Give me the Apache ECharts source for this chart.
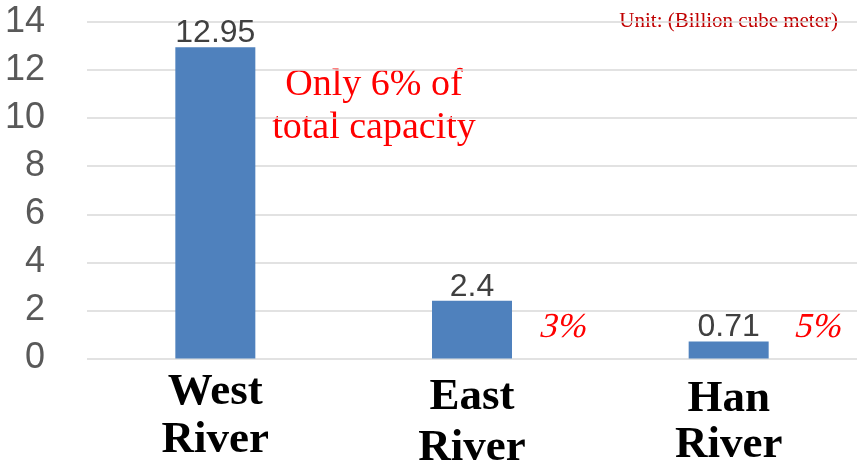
<!DOCTYPE html>
<html>
<head>
<meta charset="utf-8">
<script src="https://cdn.jsdelivr.net/npm/echarts@6/dist/echarts.min.js"></script>
<style>
  html, body { margin: 0; padding: 0; background: #fff; }
  #chart { width: 865px; height: 471px; }
</style>
</head>
<body>
<div id="chart"></div>
<script>
// Reservoir storage by river basin
const rivers = ['West', 'East', 'Han'];
const capacity = [12.95, 2.4, 0.71];
const shareNotes = ['Only 6% of\ntotal capacity', '3%', '5%'];
const yTicks = [0, 2, 4, 6, 8, 10, 12, 14];
const unitNote = 'Unit: (Billion cube meter)';

// per-category line heights for the two-line river names
const nameLines = [[50, 46], [60, 42], [64, 28]];
const nameFont = { fontFamily: 'Liberation Serif', fontWeight: 'bold', fontSize: 45, color: '#000' };
const rich = {};
rivers.forEach((r, i) => {
  rich['a' + i] = Object.assign({ lineHeight: nameLines[i][0] }, nameFont);
  rich['b' + i] = Object.assign({ lineHeight: nameLines[i][1] }, nameFont);
});

const serifRed = (size) => ({
  fontFamily: 'Liberation Serif',
  fontSize: size,
  fill: '#ff0000'
});

// slanted serif percentage note, skewed about its baseline
const slanted = (text, x, y) => ({
  type: 'text', x: x, y: y, skewX: -0.25, originX: 0, originY: 28,
  style: Object.assign({ text: text }, serifRed(35))
});

const chart = echarts.init(document.getElementById('chart'));
chart.setOption({
  animation: false,
  backgroundColor: '#ffffff',
  grid: { left: 87, right: 8, top: 22, bottom: 112 },
  xAxis: {
    type: 'category',
    data: rivers,
    axisLine: { show: false },
    axisTick: { show: false },
    axisLabel: Object.assign({
      interval: 0,
      hideOverlap: false,
      margin: 9,
      verticalAlign: 'top',
      formatter: (v, i) => `{a${i}|${v}}\n{b${i}|River}`,
      rich: rich
    }, nameFont)
  },
  yAxis: {
    type: 'value',
    min: yTicks[0],
    max: yTicks[yTicks.length - 1],
    interval: 2,
    axisLine: { show: false },
    axisTick: { show: false },
    splitLine: { lineStyle: { color: '#d9d9d9', width: 1.5 } },
    axisLabel: {
      margin: 42,
      fontFamily: 'Liberation Sans',
      fontSize: 36,
      color: '#595959'
    }
  },
  series: [{
    type: 'bar',
    data: capacity,
    barWidth: 80,
    itemStyle: { color: '#4f81bd' },
    label: {
      show: true,
      position: 'top',
      distance: -2,
      fontFamily: 'Liberation Sans',
      fontSize: 32,
      color: '#404040'
    }
  }],
  graphic: [
    {
      type: 'text', right: 27, top: 11,
      style: { text: unitNote, fontFamily: 'Liberation Serif', fontSize: 21, fill: '#c00000' }
    },
    {
      type: 'text', x: 374, y: 64,
      style: Object.assign({ text: shareNotes[0], lineHeight: 43, align: 'center' }, serifRed(38))
    },
    slanted(shareNotes[1], 538, 310),
    slanted(shareNotes[2], 793, 310)
  ]
});
</script>
</body>
</html>
